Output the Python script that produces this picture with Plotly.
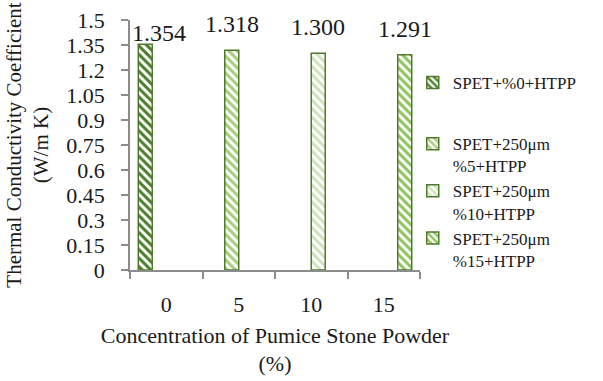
import plotly.graph_objects as go

categories = ["0", "5", "10", "15"]
series_names = [
    "SPET+%0+HTPP",
    "SPET+250μm<br>%5+HTPP",
    "SPET+250μm<br>%10+HTPP",
    "SPET+250μm<br>%15+HTPP",
]
series_values = [
    [1.354, None, None, None],
    [None, 1.318, None, None],
    [None, None, 1.300, None],
    [None, None, None, 1.291],
]
label_texts = ["1.354", "1.318", "1.300", "1.291"]
y_ticks = [0, 0.15, 0.3, 0.45, 0.6, 0.75, 0.9, 1.05, 1.2, 1.35, 1.5]

stripe_colors = ["#4a7c2c", "#a6cc7e", "#cfe3bb", "#8cc45c"]
border_color = "#4e7a2c"
groups = ["a", "b", "b", "b"]
FONT = "Liberation Serif"
TXT = "#1a1a1a"

fig = go.Figure()
for i, name in enumerate(series_names):
    fig.add_trace(go.Bar(
        x=categories, y=series_values[i], name=name,
        legendgroup=groups[i],
        marker=dict(
            color="white",
            line=dict(color=border_color, width=1.5),
            pattern=dict(shape="\\", fgcolor=stripe_colors[i], bgcolor="white",
                         size=6, solidity=0.5, fillmode="replace"),
        ),
    ))

# data labels (first one nudged right as in the original to clear the axis)
slot_w = 14
label_dx = [14, 0, 0, 0]
label_dy = [11, 26, 26, 26]
for i in range(4):
    fig.add_annotation(
        x=i, y=series_values[i][i], text=label_texts[i],
        xref="x", yref="y", showarrow=False,
        xshift=(i - 1.5) * slot_w + label_dx[i], yshift=label_dy[i],
        yanchor="middle", xanchor="center",
        font=dict(family=FONT, size=24, color=TXT),
    )

fig.update_layout(
    width=603, height=381,
    margin=dict(l=130, r=183, t=20, b=111),
    paper_bgcolor="white", plot_bgcolor="white",
    barmode="group", bargap=0.228, bargroupgap=0,
    font=dict(family=FONT, size=20, color=TXT),
    showlegend=True,
    legend=dict(
        x=0.975, y=0.82, xanchor="left", yanchor="top",
        font=dict(family=FONT, size=17, color=TXT),
        valign="top", tracegroupgap=36, traceorder="grouped",
        bgcolor="rgba(0,0,0,0)",
    ),
    xaxis=dict(
        type="category", range=[-0.5, 3.5], showgrid=False, showline=True,
        linecolor="#8c8c8c", linewidth=1.5,
        ticks="outside", tickson="boundaries", ticklen=7, tickcolor="#8c8c8c", tickwidth=1.5,
        tickfont=dict(family=FONT, size=22, color=TXT), ticklabelstandoff=14,
        title=dict(text="Concentration of Pumice Stone Powder<br>(%)",
                   font=dict(family=FONT, size=22, color=TXT), standoff=11),
        automargin=False,
    ),
    yaxis=dict(
        range=[0, 1.5], tickvals=y_ticks, ticktext=[f"{v:g}" for v in y_ticks],
        showgrid=False, zeroline=False, showline=True, linecolor="#8c8c8c", linewidth=1.5,
        ticks="outside", ticklen=7, tickcolor="#8c8c8c", tickwidth=1.5,
        tickfont=dict(family=FONT, size=22, color=TXT), ticklabelstandoff=12,
        title=dict(text="Thermal Conductivity Coefficient<br>(W/m K)",
                   font=dict(family=FONT, size=21, color=TXT), standoff=12),
        automargin=False,
    ),
)

fig.write_html("out.html")
